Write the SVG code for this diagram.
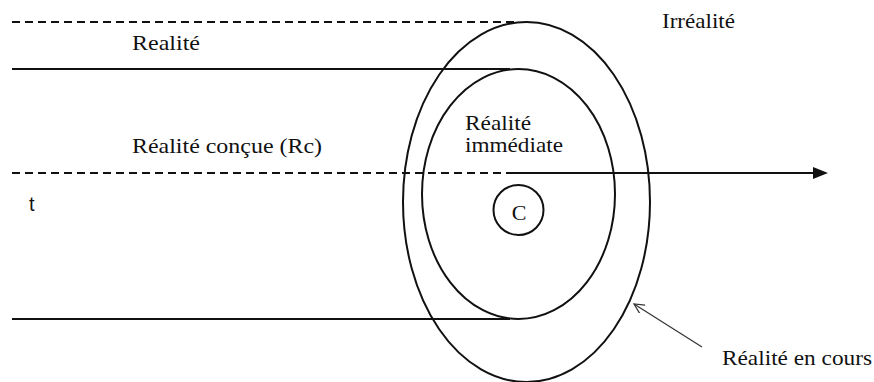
<svg xmlns="http://www.w3.org/2000/svg" width="874" height="382" viewBox="0 0 874 382">
<style>
.bg{fill:#ffffff}
.shape{fill:none;stroke:#111;stroke-width:2}
.solid{fill:none;stroke:#111;stroke-width:2.2}
.dash{fill:none;stroke:#111;stroke-width:2;stroke-dasharray:8 5}
.thin{fill:none;stroke:#333;stroke-width:1.2}
.lbl{fill:#111}
</style>
<defs>
<marker id="head" markerWidth="16" markerHeight="12" refX="1" refY="6" orient="auto" markerUnits="userSpaceOnUse">
<path d="M1,0 L16,6 L1,12 Z" fill="#111"/>
</marker>
<marker id="open" markerWidth="14" markerHeight="14" refX="11" refY="5" orient="auto" markerUnits="userSpaceOnUse">
<path d="M1,0 L11,5 L1,10" fill="none" stroke="#333" stroke-width="1.2"/>
</marker>
</defs>
<rect class="bg" x="0" y="0" width="874" height="382"/>

<g id="connectors">
<line class="dash" x1="12" y1="22" x2="518" y2="22"/>
<line class="solid" x1="12" y1="69" x2="510" y2="69"/>
<line class="dash" x1="12" y1="173" x2="508" y2="173"/>
<line class="solid" x1="506" y1="173" x2="813" y2="173" marker-end="url(#head)"/>
<line class="solid" x1="12" y1="319" x2="510" y2="319"/>
<line class="thin" x1="702" y1="347" x2="634" y2="304" marker-end="url(#open)"/>
</g>

<g id="outer-ellipse">
<ellipse class="shape" cx="526.5" cy="202" rx="123.5" ry="180"/>
</g>
<g id="inner-ellipse">
<ellipse class="shape" cx="518.5" cy="194" rx="96.5" ry="125"/>
</g>

<g id="node-c">
<circle class="shape" cx="518.5" cy="210" r="25"/>
<text class="lbl" x="519" y="220" text-anchor="middle" font-family="Liberation Serif" font-size="22">C</text>
</g>
<g id="label-realite">
<text class="lbl" x="132" y="50" font-family="Liberation Serif" font-size="21" textLength="68" lengthAdjust="spacingAndGlyphs">Realité</text>
</g>
<g id="label-realite-concue">
<text class="lbl" x="132" y="153" font-family="Liberation Serif" font-size="21" textLength="190" lengthAdjust="spacingAndGlyphs">Réalité conçue (Rc)</text>
</g>
<g id="label-irrealite">
<text class="lbl" x="662" y="28" font-family="Liberation Serif" font-size="21" textLength="73" lengthAdjust="spacingAndGlyphs">Irréalité</text>
</g>
<g id="label-realite-immediate">
<text class="lbl" x="465" y="130" font-family="Liberation Serif" font-size="21" textLength="66" lengthAdjust="spacingAndGlyphs">Réalité</text>
<text class="lbl" x="465" y="152" font-family="Liberation Serif" font-size="21" textLength="98" lengthAdjust="spacingAndGlyphs">immédiate</text>
</g>
<g id="label-realite-en-cours">
<text class="lbl" x="722" y="365" font-family="Liberation Serif" font-size="21" textLength="150" lengthAdjust="spacingAndGlyphs">Réalité en cours</text>
</g>
<g id="label-t">
<text class="lbl" x="29" y="211" font-family="Liberation Sans" font-size="20">t</text>
</g>
</svg>
